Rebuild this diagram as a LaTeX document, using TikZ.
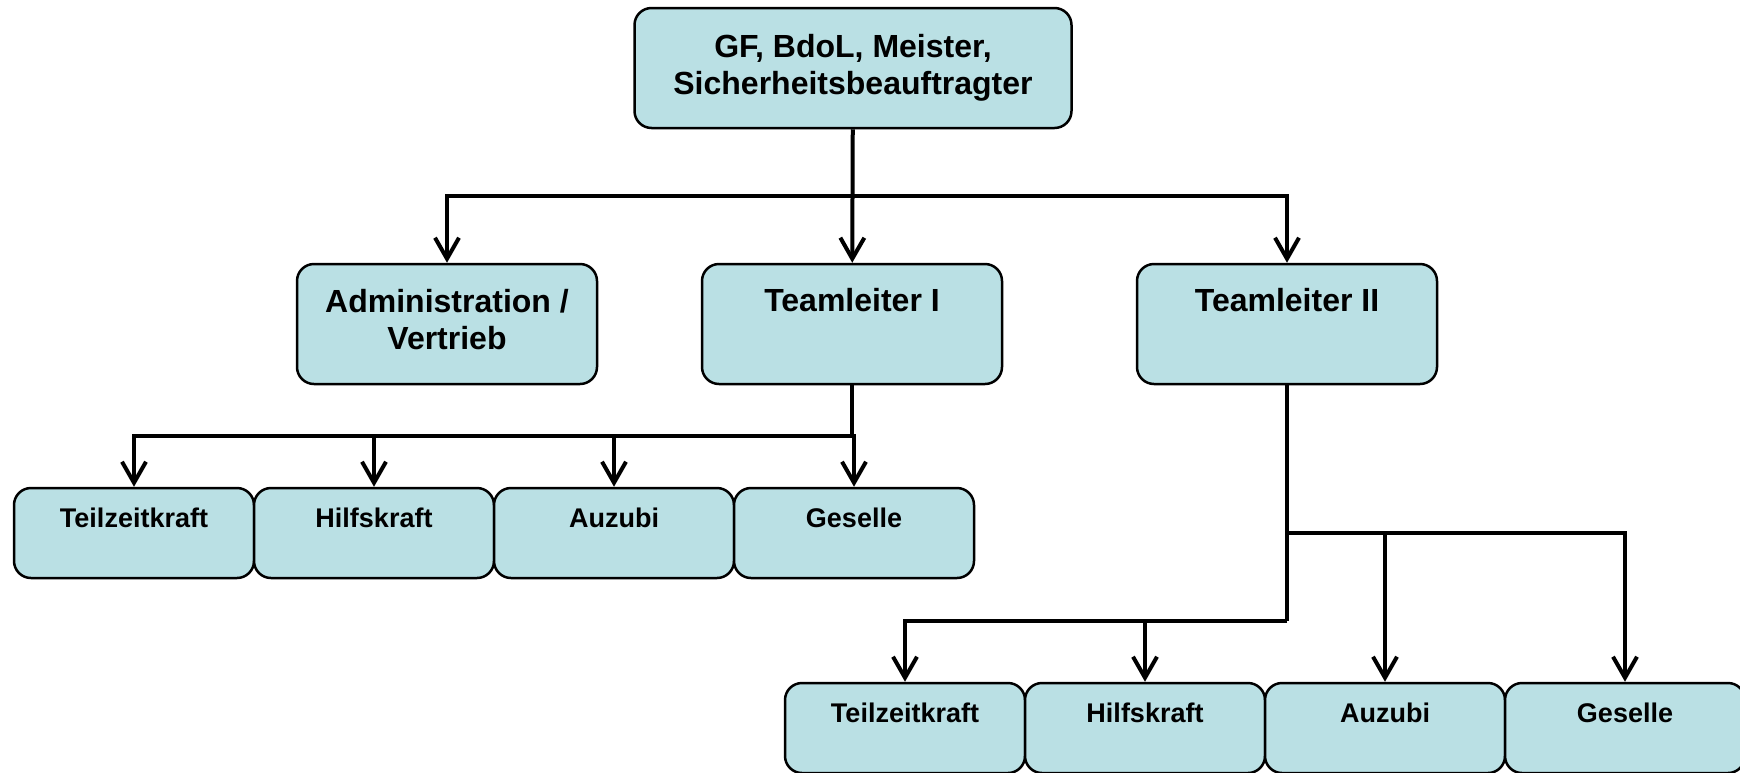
\documentclass[tikz,border=0pt]{standalone}
\usepackage{fontspec}
\setmainfont{Liberation Sans}
\usepackage{tikz}
\usetikzlibrary{shapes, arrows, arrows.meta, positioning}
\definecolor{boxfill}{RGB}{186,224,228}
\tikzstyle{line} = [draw, line width=4pt, -{Straight Barb[length=21pt, width=24pt, line width=4pt]}]
\tikzstyle{trunk} = [draw, line width=4.5pt]

\begin{document}
\begin{tikzpicture}[x=1pt, y=-1pt,
          line join = miter, % sharp corners on the buses
          ]

      \tikzstyle{box}=[
          draw = black,
          line width = 2.5pt,
          fill = boxfill,
          rounded corners = 17pt,
          align = center,
          inner sep = 0pt
      ]
      \tikzstyle{big}=[box, minimum width = 300pt, minimum height = 120pt,
          font = \bfseries\fontsize{32}{37}\selectfont]
      \tikzstyle{small}=[box, minimum width = 240pt, minimum height = 90pt,
          font = \bfseries\fontsize{27}{31}\selectfont]

  \useasboundingbox (0, 0) rectangle (1740, 772);
  \clip (0, 0) rectangle (1740, 772);

  % Draw the vertices.
  \node[big, minimum width = 437pt] (chef) at (853, 68) {GF, BdoL, Meister,\\Sicherheitsbeauftragter};

  \node[big] (admin) at (447, 324) {Administration /\\Vertrieb\rule[-10pt]{0pt}{10pt}};
  \node[big] (tl1) at (852, 324) {Teamleiter I\\\rule[-12pt]{0pt}{12pt}};
  \node[big] (tl2) at (1287, 324) {Teamleiter II\\\rule[-12pt]{0pt}{12pt}};

  \node[small] (r1t) at (134, 533) {Teilzeitkraft\\~};
  \node[small] (r1h) at (374, 533) {Hilfskraft\\~};
  \node[small] (r1a) at (614, 533) {Auzubi\\~};
  \node[small] (r1g) at (854, 533) {Geselle\\~};

  \node[small] (r2t) at (905, 728) {Teilzeitkraft\\~};
  \node[small] (r2h) at (1145, 728) {Hilfskraft\\~};
  \node[small] (r2a) at (1385, 728) {Auzubi\\~};
  \node[small] (r2g) at (1625, 728) {Geselle\\~};

  \coordinate (b1) at (852, 196);
  \coordinate (b2) at (852, 436);
  \coordinate (b3) at (1287, 533);
  \coordinate (b4) at (1287, 621);

  % Connect vertices with edges
  \path[line] (chef) -- (tl1);
  \path[trunk] (admin.north |- b1) -- (tl2.north |- b1);
  \path[line] (b1) -| (admin);
  \path[line] (b1) -| (tl2);

  \path[trunk] (tl1) -- (b2);
  \path[trunk] (r1t.north |- b2) -- (r1g.north |- b2);
  \path[line] (b2) -| (r1t);
  \path[line] (b2) -| (r1h);
  \path[line] (b2) -| (r1a);
  \path[line] (b2) -| (r1g);

  \path[trunk] (tl2) -- (b4);
  \path[trunk] (b3) -- (r2g.north |- b3);
  \path[trunk] (r2t.north |- b4) -- (b4);
  \path[line] (b4) -| (r2t);
  \path[line] (b4) -| (r2h);
  \path[line] (b3) -| (r2a);
  \path[line] (b3) -| (r2g);
\end{tikzpicture}
\end{document}
